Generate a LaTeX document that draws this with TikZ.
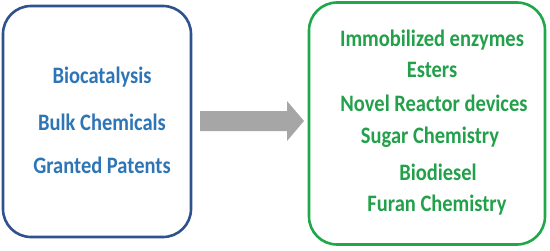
\documentclass[tikz,border=0pt]{standalone}
\usepackage{fontspec}
\setmainfont{Carlito}
\usetikzlibrary{positioning}
\definecolor{boxblue}{RGB}{47,82,143}
\definecolor{txtblue}{RGB}{46,117,182}
\definecolor{boxgreen}{RGB}{30,168,74}
\definecolor{txtgreen}{RGB}{34,160,74}
\definecolor{arrowgray}{RGB}{166,166,166}
\newcommand{\tallbox}[1]{\scalebox{1}[1.15]{#1}}
\tikzset{
  panel/.style={line width=2.6pt, rounded corners=28pt, fill=white},
  item/.style={font=\fontsize{20.5}{24}\selectfont\bfseries, inner sep=0pt}
}
\begin{document}
\begin{tikzpicture}[x=1pt,y=1pt]
\useasboundingbox (0,0) rectangle (550,250);
\node[panel, draw=boxblue, minimum width=188pt, minimum height=231pt] (left) at (97,128.5) {};
\node[panel, draw=boxgreen, minimum width=236pt, minimum height=242pt] (right) at (427,126.5) {};

\node[item, text=txtblue] (bio) at (102,173) {\tallbox{Biocatalysis}};
\node[item, text=txtblue] (bulk) at (102,128) {\tallbox{Bulk Chemicals}};
\node[item, text=txtblue] (pat) at (102,85) {\tallbox{Granted Patents}};

\node[item, text=txtgreen] (imm) at (432,210) {\tallbox{Immobilized enzymes}};
\node[item, text=txtgreen] (est) at (432,180) {\tallbox{Esters}};
\node[item, text=txtgreen] (nov) at (434,147) {\tallbox{Novel Reactor devices}};
\node[item, text=txtgreen] (sug) at (430,113) {\tallbox{Sugar Chemistry}};
\node[item, text=txtgreen] (bdi) at (438,78) {\tallbox{Biodiesel}};
\node[item, text=txtgreen] (fur) at (437,45) {\tallbox{Furan Chemistry}};

% block arrow between the panels
\coordinate (a0) at (200,129);
\fill[arrowgray] (a0) ++(0,10) -- ++(87,0) -- ++(0,10) -- ++(17,-20)
  -- ++(-17,-20) -- ++(0,10) -- ++(-87,0) -- cycle;
\end{tikzpicture}
\end{document}
